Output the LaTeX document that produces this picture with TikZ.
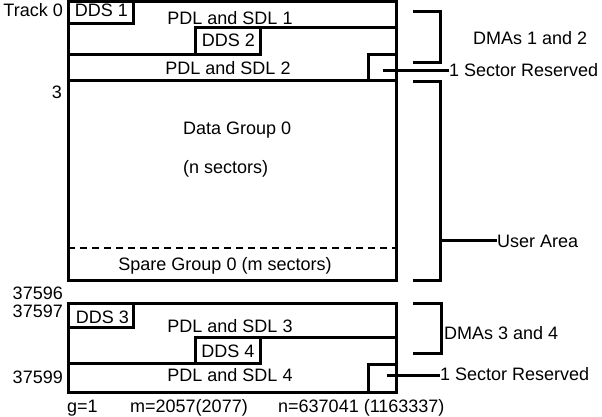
\documentclass[tikz,border=0pt]{standalone}
\usepackage{fontspec}
\setmainfont{Liberation Sans}
\usetikzlibrary{positioning}

\begin{document}
\begin{tikzpicture}[x=1pt, y=-1pt,
  edge/.style={black, line width=3pt},
  txt/.style={inner sep=0pt, font=\fontsize{18}{20}\selectfont}]
\useasboundingbox (0,0) rectangle (602,417);
% DMAs 1 and 2
\draw[edge] (68,1.5) rectangle (396,81);
\draw[edge] (68,1.5) rectangle (133,24);
\draw[edge] (396,28) -- (195,28) -- (195,55);
\draw[edge] (68,55) -- (260,55) -- (260,28);
\draw[edge] (368,81) -- (368,55) -- (396,55);
% user area
\draw[edge] (68,81) rectangle (396,280);
\draw[black, line width=2pt, dash pattern=on 7pt off 5pt] (68,248) -- (396,248);
% DMAs 3 and 4
\draw[edge] (68,303) rectangle (396,392);
\draw[edge] (68,303) rectangle (133,327);
\draw[edge] (396,337) -- (195,337) -- (195,363);
\draw[edge] (68,363) -- (260,363) -- (260,337);
\draw[edge] (368,392) -- (368,364) -- (396,364);
% brackets
\draw[edge] (413,12) -- (440,12) -- (440,63) -- (413,63);
\draw[edge] (413,82) -- (440,82) -- (440,280) -- (413,280);
\draw[edge] (413,303) -- (441,303) -- (441,353) -- (413,353);
% track numbers
\node[txt, anchor=base east] (t0) at (63,17) {Track 0};
\node[txt, anchor=base east] (t3) at (62,99) {3};
\node[txt, anchor=base east] (t37596) at (63,299) {37596};
\node[txt, anchor=base east] (t37597) at (63,317) {37597};
\node[txt, anchor=base east] (t37599) at (63,383) {37599};
% box texts
\node[txt, anchor=base] (dds1) at (101.5,17) {DDS 1};
\node[txt, anchor=base] (pdl1) at (230,25) {PDL and SDL 1};
\node[txt, anchor=base] (dds2) at (228.5,47) {DDS 2};
\node[txt, anchor=base] (pdl2) at (228,75) {PDL and SDL 2};
\node[txt, anchor=base west] (dg0) at (183,135) {Data Group 0};
\node[txt, anchor=base west] (nsec) at (183,173) {(n sectors)};
\node[txt, anchor=base] (sg0) at (225,270) {Spare Group 0 (m sectors)};
\node[txt, anchor=base] (dds3) at (102.5,323) {DDS 3};
\node[txt, anchor=base] (pdl3) at (230,332) {PDL and SDL 3};
\node[txt, anchor=base] (dds4) at (228,357) {DDS 4};
\node[txt, anchor=base] (pdl4) at (230,381) {PDL and SDL 4};
% right labels
\node[txt, anchor=base west] (dma12) at (473,45) {DMAs 1 and 2};
\node[txt, anchor=base west] (rsv1) at (449,77) {1 Sector Reserved};
\node[txt, anchor=base west] (user) at (497,247) {User Area};
\node[txt, anchor=base west] (dma34) at (444,339) {DMAs 3 and 4};
\node[txt, anchor=base west] (rsv2) at (440,380) {1 Sector Reserved};
\coordinate (sec1) at (383,71);
\coordinate (sec2) at (387,375);
\coordinate (ua) at (440,240);
\draw[edge] (sec1) -- (sec1 -| rsv1.west);
\draw[edge] (sec2) -- (sec2 -| rsv2.west);
\draw[edge] (ua) -- (ua -| user.west);
% bottom line
\node[txt, anchor=base west] (g) at (67,412) {g=1};
\node[txt, anchor=base west] (m) at (130,412) {m=2057(2077)};
\node[txt, anchor=base west] (n) at (278,412) {n=637041 (1163337)};
\end{tikzpicture}
\end{document}
